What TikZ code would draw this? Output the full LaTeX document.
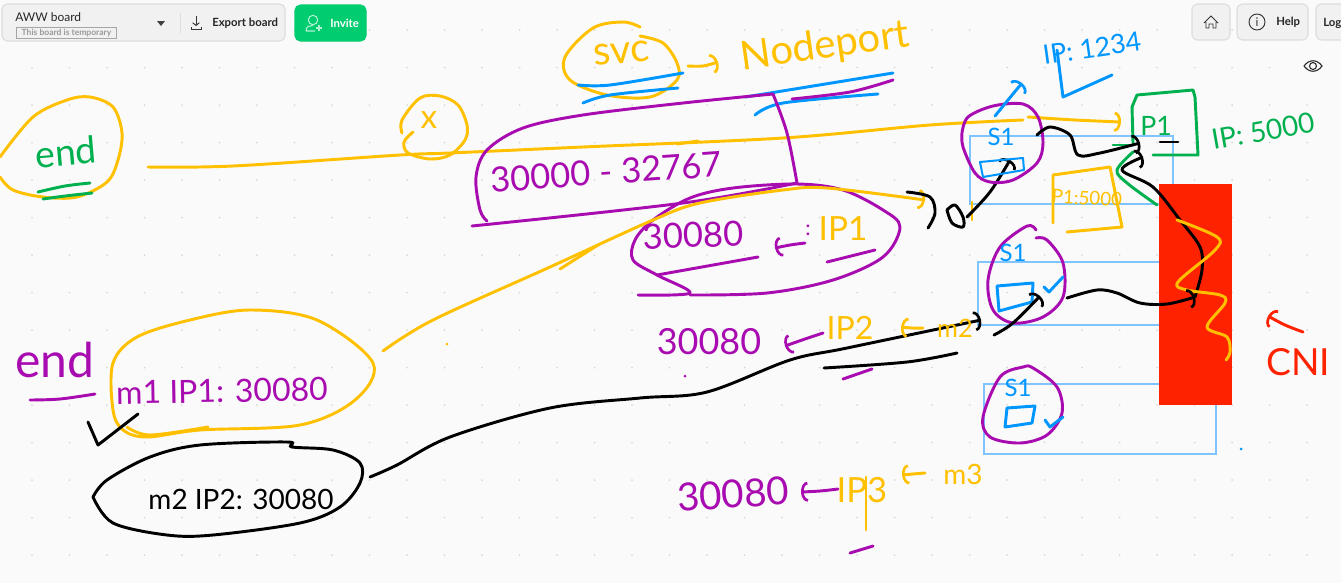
\documentclass[tikz,border=0pt]{standalone}
\usepackage{fontspec}
\setmainfont{Lato}
\usetikzlibrary{arrows.meta}
\definecolor{pagebg}{HTML}{FAFAFA}
\definecolor{griddot}{HTML}{D9D9D9}
\definecolor{barbg}{HTML}{F1F1F1}
\definecolor{barline}{HTML}{DDDDDD}
\definecolor{invitebg}{HTML}{00CC70}
\definecolor{gold}{HTML}{FFC000}
\definecolor{leaf}{HTML}{00B04F}
\definecolor{plum}{HTML}{A80CB0}
\definecolor{sky}{HTML}{0096FF}
\definecolor{pale}{HTML}{80C4FF}
\definecolor{cni}{HTML}{FF2200}

\begin{document}
\begin{tikzpicture}[
    x=0.75pt, y=-0.75pt,
    sk/.style={line width=2.2pt, line cap=round, line join=round, smooth, tension=0.55},
    skc/.style={sk, smooth cycle},
    thin sk/.style={sk, line width=1.5pt},
    hook/.style={-{Arc Barb[length=5pt, width=15pt, line width=2pt]}},
    hand/.style={font=\fontsize{#1}{#1}\selectfont, inner sep=0pt},
    btn/.style={draw=barline, fill=barbg, rounded corners=4pt, line width=0.8pt},
    bartext/.style={inner sep=0pt, anchor=west, font=\fontsize{8.5}{10}\selectfont\bfseries, text=black!85},
    region/.style={draw=pale, line width=1pt}
  ]
    \useasboundingbox (0,0) rectangle (1341,583);
    \fill[pagebg] (0,0) rectangle (1341,583);
    \foreach \i in {0,...,35}
      \foreach \j in {0,...,14}
        \fill[griddot] ({32+37.5*\i},{30+37.5*\j}) circle (1);

    \draw[btn] (2,4) rectangle (285,41);
    \draw[btn, fill=invitebg, draw=invitebg] (295,5) rectangle (366,41);
    \draw[btn] (1192,4) rectangle (1230,40);
    \draw[btn] (1237,4) rectangle (1308,40);
    \draw[btn] (1316,4) rectangle (1350,40);
    \node[bartext, font=\fontsize{9}{10}\selectfont] (boardname) at (15,17) {AWW board};
    \node[draw=black!35, inner sep=1pt, text=black!40, font=\fontsize{6.4}{7}\selectfont\bfseries, minimum width=75pt, minimum height=8pt] (boardnote) at (66.5,33) {This board is temporary};
    \fill[black!75] (157,21) -- (165,21) -- (161,26) -- cycle;
    \draw[barline] (180,13) -- (180,33);
    \draw[black!80, line width=0.7pt, -{Straight Barb[length=2pt,width=5pt]}] (196,16) -- (196,26);
    \draw[black!80, line width=0.7pt] (191,27) -- (191,29) -- (201,29) -- (201,27);
    \node[bartext] (export) at (212,23) {Export board};
    \draw[white!70!invitebg, line width=0.8pt] (313,20) circle (4.7);
    \draw[white!70!invitebg, line width=0.8pt] (306,31) .. controls (306,26) and (310,25.5) .. (313,25.5) (306,31) -- (315,31);
    \draw[white!70!invitebg, line width=0.8pt] (316,28) -- (322,28) (319,25) -- (319,31);
    \node[bartext, text=white] (invite) at (330,23) {Invite};
    \draw[black!80, line width=0.7pt] (1204,23) -- (1211,16) -- (1218,23) (1206,22) -- (1206,28) -- (1209,28) -- (1209,24) -- (1213,24) -- (1213,28) -- (1216,28) -- (1216,22);
    \draw[black!80, line width=0.7pt] (1257,22) circle (8);
    \node[font=\fontsize{9}{10}\selectfont, text=black!80, inner sep=0pt] (infomark) at (1257,22) {i};
    \node[bartext] (help) at (1276,22) {Help};
    \node[bartext] (login) at (1323,23) {Log};
    \draw[black!85, line width=0.8pt] (1304,66) .. controls (1309,59) and (1317,59) .. (1322,66) .. controls (1317,73) and (1309,73) .. (1304,66);
    \draw[black!85, line width=0.8pt] (1313,66) circle (3.5);

    \draw[region] (970,136) rectangle (1173,204);
    \draw[region] (978,262) rectangle (1173,325);
    \draw[region] (984,384) rectangle (1216,454);
    \fill[cni] (1159,184) rectangle (1232,405);

    \draw[sk, gold] plot coordinates {(0,157) (33,117) (67,100) (90,97) (113,107) (122,133) (118,160) (107,182) (77,197) (43,197) (13,190) (0,177)};
    \node[hand=28, text=leaf, rotate=5] (endone) at (66,152) {end};
    \draw[sk, leaf] plot coordinates {(38,192) (65,186) (90,183)};
    \draw[sk, leaf] plot coordinates {(43,199) (65,196) (92,193)};
    \draw[sk, gold] plot coordinates {(402,133) (402,120) (420,98) (440,96) (458,105) (467,125) (465,140) (450,155) (430,159) (408,153) (404,142) (413,132)};
    \node[hand=25, text=gold] (xmark) at (429,120) {x};
    \coordinate (endtail) at (148,167);
    \coordinate (podtip) at (1121,122);
    \draw[sk, gold] plot coordinates {(endtail) (233,166) (400,155) (450,153) (583,147) (783,138) (930,125) (1023,120)};
    \draw[sk, gold, hook] plot coordinates {(1028,117) (1075,120) (podtip)};
    \draw[sk, gold] plot coordinates {(677,144) (698,141)};

    \draw[sk, gold] plot coordinates {(640,27) (623,22) (593,28) (565,57) (570,80) (607,95) (650,97) (677,80) (677,63) (663,43) (640,36)};
    \node[hand=30, text=gold, rotate=5] (svc) at (622,53) {svc};
    \draw[sk, sky] plot coordinates {(578,85) (610,85) (683,73)};
    \draw[sk, sky] plot coordinates {(583,103) (610,95) (678,88)};
    \draw[sk, gold, hook] plot coordinates {(688,66) (703,66) (718,62)};
    \node[hand=30, text=gold, rotate=8] (nodeport) at (825,47) {Nodeport};
    \draw[sk, sky] plot coordinates {(745,97) (770,93) (893,73)};
    \draw[sk, sky] plot coordinates {(755,115) (783,103) (878,94)};
    \draw[sk, plum] plot coordinates {(792,99) (850,92) (893,80)};

    \draw[sk, plum] plot coordinates {(773,94) (683,103) (583,115) (523,128) (487,150) (476,177) (480,210) (487,221)};
    \draw[sk, plum] plot coordinates {(472,226) (683,203) (797,183)};
    \draw[sk, plum] plot coordinates {(773,94) (787,133) (797,183)};
    \node[hand=26, text=plum, rotate=4] (range) at (606,172) {30000 - 32767};
    \draw[sk, plum] plot coordinates {(638,295) (690,293) (657,275) (633,260) (635,240) (653,220) (690,198) (733,188) (797,184) (843,190) (883,210) (900,227) (883,257) (833,280) (767,293) (690,295)};
    \draw[sk, plum] plot coordinates {(657,275) (758,257)};
    \draw[sk, plum] plot coordinates {(827,262) (875,250)};
    \node[hand=26, text=plum, rotate=2] (portone) at (693,235) {30080};
    \draw[sk, plum, hook] plot coordinates {(805,243) (790,245) (775,248)};
    \node[hand=16, text=plum] (colon) at (808,230) {:};
    \node[hand=25, text=gold] (ipone) at (843,229) {IP1};

    \coordinate (kneck) at (383,351);
    \draw[sk, gold, hook] plot coordinates {(kneck) (433,320) (550,267) (653,220) (700,203) (783,190) (827,188) (925,200)};
    \draw[sk, gold] plot coordinates {(560,269) (598,245)};
    \fill[gold] (447,344) circle (1.5);
    \draw[sk, black] plot coordinates {(907,192) (930,197) (935,213) (928,228)};
    \draw[sk, gold] plot coordinates {(972,202) (972,220)};
    \draw[sk, black] plot coordinates {(947,210) (955,205) (963,217) (963,227) (952,223) (947,210)};
    \draw[sk, black, hook] plot coordinates {(967,217) (990,192) (1010,160)};

    \draw[sk, plum] plot coordinates {(962,133) (968,117) (993,106) (1023,104) (1038,117) (1043,143) (1037,163) (1013,180) (990,182) (975,173) (963,147) (962,133)};
    \node[hand=18, text=sky] (sone) at (1001,137) {S1};
    \draw[thin sk, sky, sharp plot] (980,162) -- (1023,158) -- (1024,170) -- (983,177) -- cycle;
    \draw[sk, sky, hook] plot coordinates {(995,116) (1008,100) (1022,83)};
    \node[hand=20, text=sky, rotate=8] (ipsvc) at (1092,48) {IP: 1234};
    \draw[sk, sky, sharp plot] (1057,50) -- (1063,97) -- (1112,75);

    \draw[sk, leaf, sharp plot] (1153,155) -- (1198,155) -- (1195,97) -- (1193,90) -- (1137,95) -- (1132,107) -- (1133,143);
    \node[hand=20, text=leaf] (pone) at (1156,126) {P1};
    \draw[sk, black] plot coordinates {(1160,142) (1178,142)};
    \node[hand=21, text=leaf, rotate=10] (ipfive) at (1263,131) {IP: 5000};
    \draw[sk, leaf] plot coordinates {(1113,145) (1133,145)};
    \draw[sk, leaf] plot coordinates {(1133,152) (1117,170) (1127,183) (1157,205)};
    \draw[sk, gold, sharp plot] (1053,223) -- (1053,175) -- (1110,167) -- (1122,227) -- (1067,232);
    \node[hand=14, text=gold, rotate=-3] (podport) at (1087,198) {P1:5000};
    \draw[sk, black, hook] plot coordinates {(1037,135) (1050,127) (1070,135) (1078,155) (1100,153) (1140,143)};
    \draw[sk, black, hook] plot coordinates {(1195,297) (1202,270) (1200,247) (1180,220) (1153,187) (1122,170) (1143,157)};

    \draw[sk, gold] plot coordinates {(1177,220) (1217,237) (1215,250) (1178,282) (1187,290) (1220,295) (1225,303) (1207,327) (1227,337) (1230,352) (1226,360)};
    \node[hand=28, text=cni] (cnilabel) at (1298,362) {CNI};
    \draw[sk, cni, hook] plot coordinates {(1303,332) (1285,325) (1268,316)};

    \draw[sk, plum] plot coordinates {(1036,230) (1027,226) (1000,247) (988,280) (993,310) (1013,323) (1043,317) (1063,297) (1063,263) (1047,240) (1036,238)};
    \node[hand=18, text=sky] (stwo) at (1013,253) {S1};
    \draw[sk, sky, sharp plot] (997,286) -- (1033,283) -- (1032,302) -- (999,311) -- cycle;
    \draw[sk, sky, sharp plot] (1044,287) -- (1049,292) -- (1063,277);
    \draw[sk, black, hook] plot coordinates {(994,335) (1013,323) (1040,296)};
    \draw[sk, black, hook] plot coordinates {(1067,298) (1097,290) (1117,293) (1140,303) (1167,304) (1195,297)};

    \draw[skc, plum] plot coordinates {(1033,368) (1023,367) (1000,377) (983,417) (990,437) (1020,443) (1047,435) (1062,413) (1057,387)};
    \node[hand=18, text=sky] (sthree) at (1018,388) {S1};
    \draw[sk, sky, sharp plot] (1007,408) -- (1035,406) -- (1032,423) -- (1005,427) -- cycle;
    \draw[sk, sky, sharp plot] (1045,420) -- (1050,427) -- (1063,417);
    \fill[sky] (1241,449) circle (1.5);

    \node[hand=36, text=plum] (endtwo) at (55,360) {end};
    \draw[sk, plum] plot coordinates {(30,400) (60,399) (95,394)};
    \draw[skc, gold] plot coordinates {(137,337) (190,320) (250,310) (317,320) (373,363) (355,400) (300,425) (200,430) (147,437) (123,430) (113,410) (113,363)};
    \node[hand=24, text=plum, rotate=1] (mone) at (222,391) {m1 IP1: 30080};
    \draw[sk, gold] plot coordinates {(127,427) (150,435) (208,427)};
    \draw[sk, black, sharp plot] (88,422) -- (98,445) -- (138,414);

    \draw[sk, black] plot coordinates {(93,497) (107,480) (150,457) (200,445) (287,442) (292,447) (333,450) (360,463) (360,483) (340,507) (300,523) (213,535) (167,535) (113,523) (93,497)};
    \node[hand=21, text=black] (mtwo) at (241,499) {m2 IP2: 30080};
    \coordinate (mtwotail) at (370,477);
    \coordinate (mtwotip) at (981,320);
    \draw[sk, black, hook] plot coordinates {(mtwotail) (397,465) (450,437) (550,408) (640,398) (707,392) (790,360) (847,348) (mtwotip)};
    \draw[sk, black] plot coordinates {(824,368) (907,362) (957,353)};
    \draw[sk, plum] plot coordinates {(843,379) (872,369)};

    \node[hand=27, text=plum] (porttwo) at (709,342) {30080};
    \fill[plum] (685,376) circle (1.5);
    \draw[sk, plum, hook] plot coordinates {(823,333) (805,339) (785,346)};
    \node[hand=24, text=gold] (iptwo) at (850,328) {IP2};
    \draw[sk, gold, hook] plot coordinates {(923,328) (912,328) (901,327)};
    \node[hand=19, text=gold] (mlabeltwo) at (955,328) {m2};

    \node[hand=29, text=plum, rotate=4] (portthree) at (733,494) {30080};
    \draw[sk, plum, hook] plot coordinates {(838,489) (820,491) (801,492)};
    \node[hand=26, text=gold] (ipthree) at (862,490) {IP3};
    \draw[sk, gold] plot coordinates {(866,477) (866,530)};
    \draw[sk, gold, hook] plot coordinates {(925,473) (913,474) (902,475)};
    \node[hand=21, text=gold] (mlabelthree) at (963,474) {m3};
    \draw[sk, plum] plot coordinates {(850,553) (873,546)};
  \end{tikzpicture}
\end{document}
